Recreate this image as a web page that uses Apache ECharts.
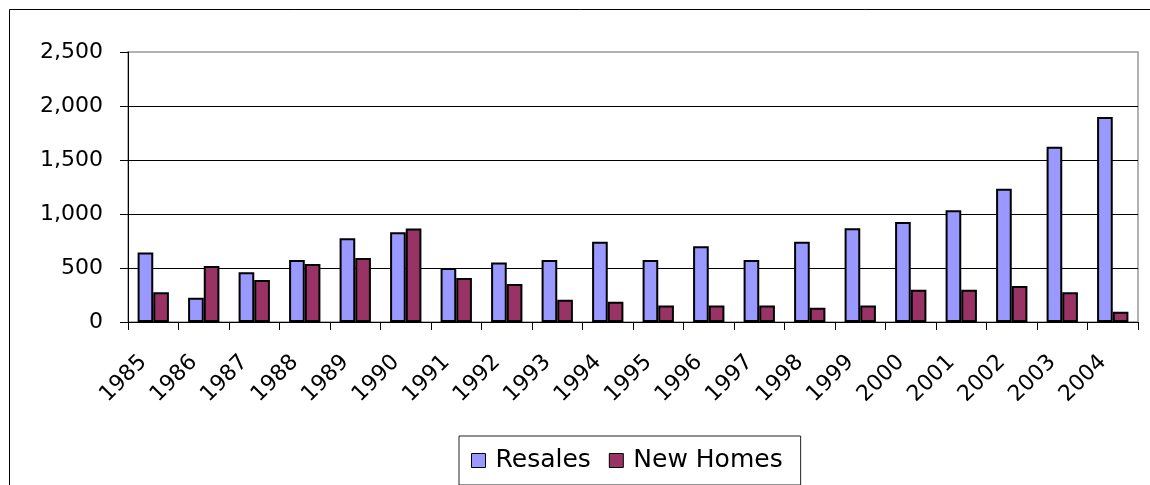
<!DOCTYPE html>
<html>
<head>
<meta charset="utf-8">
<style>
  html, body { margin: 0; padding: 0; background: #fff; }
  #chart { width: 1150px; height: 485px; }
</style>
<script src="https://cdn.jsdelivr.net/npm/echarts@6/dist/echarts.min.js"></script>
</head>
<body>
<div id="chart"></div>
<script>
// Home sales by year (thousands)
const years = ['1985','1986','1987','1988','1989','1990','1991','1992','1993','1994',
               '1995','1996','1997','1998','1999','2000','2001','2002','2003','2004'];
const resales = [644, 224, 460, 574, 776, 831, 500, 552, 574, 742,
                 574, 702, 574, 742, 868, 926, 1034, 1233, 1623, 1899];
const newHomes = [276, 518, 390, 537, 592, 865, 408, 353, 206, 187,
                  153, 153, 153, 132, 153, 298, 298, 334, 276, 95];
const yTicks = { min: 0, max: 2500, interval: 500 };

const font = 'DejaVu Sans';
const chart = echarts.init(document.getElementById('chart'), null, { renderer: 'canvas' });

chart.setOption({
  animation: false,
  backgroundColor: '#fff',
  textStyle: { fontFamily: font, color: '#000' },
  graphic: [{
    type: 'rect',
    shape: { x: 9.5, y: 9.5, width: 1300, height: 700 },
    style: { fill: 'none', stroke: '#000', lineWidth: 1 },
    silent: true,
    z: -1
  }],
  grid: {
    left: 128, top: 52, right: 12, bottom: 163,
    show: true, borderColor: '#999', borderWidth: 1.5, backgroundColor: 'transparent'
  },
  legend: {
    left: 459, top: 436,
    padding: [12, 18, 12, 12],
    borderColor: '#222', borderWidth: 1,
    itemWidth: 14, itemHeight: 14, itemGap: 18,
    icon: 'rect',
    textStyle: { fontFamily: font, fontSize: 25, color: '#000', lineHeight: 20, padding: [0, 0, 0, 5] },
    data: [
      { name: 'Resales', itemStyle: { borderColor: '#000', borderWidth: 1 } },
      { name: 'New Homes', itemStyle: { borderColor: '#000', borderWidth: 1 } }
    ]
  },
  xAxis: {
    type: 'category',
    data: years,
    boundaryGap: true,
    axisLine: { lineStyle: { color: '#000', width: 1 } },
    axisTick: { show: true, length: 8, alignWithLabel: false, lineStyle: { color: '#000' } },
    axisLabel: {
      rotate: 45, margin: 27, padding: [0, 14, 0, 0],
      fontFamily: font, fontSize: 22, color: '#000', interval: 0
    },
    splitLine: { show: false }
  },
  yAxis: {
    type: 'value',
    min: yTicks.min, max: yTicks.max, interval: yTicks.interval,
    axisLine: { show: true, lineStyle: { color: '#000', width: 1 } },
    axisTick: { show: true, length: 8, lineStyle: { color: '#000' } },
    axisLabel: {
      margin: 25, fontFamily: font, fontSize: 22, color: '#000',
      formatter: v => v.toLocaleString('en-US')
    },
    splitLine: { show: true, showMaxLine: false, lineStyle: { color: '#000', width: 1 } }
  },
  series: [
    {
      name: 'Resales', type: 'bar', data: resales,
      barWidth: '31%', barGap: '0%',
      itemStyle: { color: '#9999FF', borderColor: '#000', borderWidth: 2 }
    },
    {
      name: 'New Homes', type: 'bar', data: newHomes,
      barWidth: '31%', barGap: '0%',
      itemStyle: { color: '#993366', borderColor: '#000', borderWidth: 2 }
    }
  ]
});
</script>
</body>
</html>
